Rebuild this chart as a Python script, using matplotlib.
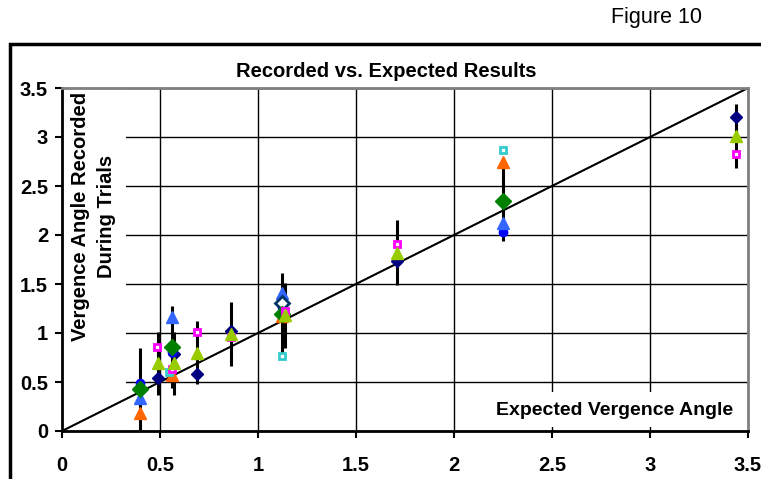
import matplotlib.pyplot as plt
from matplotlib.patches import Rectangle

plt.rcParams['font.family'] = ['Liberation Sans', 'DejaVu Sans']

# navy diamonds
navy_x = [0.49, 0.57, 0.69, 0.86, 1.71, 3.44]
navy_y = [0.54, 0.79, 0.58, 1.02, 1.73, 3.20]
# blue circles
blue_x = [0.40, 0.56, 1.12, 2.25]
blue_y = [0.49, 0.81, 1.27, 2.03]
# light blue triangles
lblue_x = [0.40, 0.56, 1.12, 2.25]
lblue_y = [0.34, 1.16, 1.41, 2.12]
# orange triangles
orange_x = [0.40, 0.56, 1.12, 2.25]
orange_y = [0.18, 0.57, 1.17, 2.74]
# green diamonds (with error bars)
green_x = [0.40, 0.56, 1.12, 2.25]
green_y = [0.43, 0.86, 1.19, 2.35]
green_err = [0.42, 0.42, 0.42, 0.41]
# cyan squares
cyan_x = [0.545, 1.12, 2.25]
cyan_y = [0.60, 0.77, 2.87]
# open navy diamond
open_x = [1.12]
open_y = [1.31]
# magenta squares
mag_x = [0.485, 0.56, 0.69, 0.86, 1.14, 1.71, 3.44]
mag_y = [0.86, 0.63, 1.01, 0.96, 1.22, 1.91, 2.83]
# yellow-green triangles (with error bars)
yg_x = [0.49, 0.57, 0.69, 0.86, 1.14, 1.71, 3.44]
yg_y = [0.69, 0.69, 0.80, 0.99, 1.18, 1.82, 3.01]
yg_err = [0.32, 0.32, 0.32, 0.33, 0.33, 0.33, 0.33]

ticks = [0, 0.5, 1, 1.5, 2, 2.5, 3, 3.5]
tick_labels = ['0', '0.5', '1', '1.5', '2', '2.5', '3', '3.5']

fig = plt.figure(figsize=(7.61, 4.79), dpi=100)
ax = fig.add_axes([62 / 761, 1 - 431 / 479, 686 / 761, 343 / 479])

# outer frame
fig.patches.append(Rectangle((10 / 761, -0.1), 1.2, 1 - 44 / 479 + 0.1,
                             transform=fig.transFigure, fill=False,
                             edgecolor='black', linewidth=2.5))

ax.set_xlim(0, 3.5)
ax.set_ylim(0, 3.5)
ax.set_axisbelow(True)
ax.grid(True, color='black', linewidth=1)

# white boxes behind the labels inside the plot
ax.add_patch(Rectangle((0, 0), 0.328, 3.5, facecolor='white', edgecolor='none', zorder=1))
ax.add_patch(Rectangle((2.18, 0.04), 1.30, 0.36, facecolor='white', edgecolor='none', zorder=1))

ax.plot([0, 3.5], [0, 3.5], color='black', linewidth=1.5, zorder=2)

ax.errorbar(green_x, green_y, yerr=green_err, fmt='none', ecolor='black', elinewidth=2.2, zorder=3)
ax.errorbar(yg_x, yg_y, yerr=yg_err, fmt='none', ecolor='black', elinewidth=2.2, zorder=3)

ax.plot(navy_x, navy_y, 'D', color='#000080', markersize=6, zorder=4)
ax.plot(blue_x, blue_y, 'o', color='#0000FF', markersize=6, zorder=4)
ax.plot(lblue_x, lblue_y, '^', color='#3366FF', markersize=8, zorder=4)
ax.plot(orange_x, orange_y, '^', color='#FF6600', markersize=8, zorder=4)
ax.plot(open_x, open_y, 'D', markerfacecolor='white', markeredgecolor='#003366',
        markeredgewidth=2, markersize=7, zorder=4)
ax.plot(green_x, green_y, 'D', color='#008000', markersize=8, zorder=4)
ax.plot(cyan_x, cyan_y, 's', markerfacecolor='white', markeredgecolor='#33CCCC',
        markeredgewidth=2, markersize=4, zorder=4)
ax.plot(mag_x, mag_y, 's', markerfacecolor='white', markeredgecolor='#FF00FF',
        markeredgewidth=2, markersize=4, zorder=4)
ax.plot(yg_x, yg_y, '^', color='#99CC00', markersize=9, zorder=4)

ax.set_xticks(ticks)
ax.set_xticklabels(tick_labels, fontsize=14.5, fontweight='bold')
ax.set_yticks(ticks)
ax.set_yticklabels(tick_labels, fontsize=14.5, fontweight='bold')
ax.tick_params(axis='x', direction='out', length=5, width=1.5, pad=13)
ax.tick_params(axis='y', direction='out', length=5, width=1.5, pad=5)

ax.spines['left'].set_color('black')
ax.spines['bottom'].set_color('black')
ax.spines['left'].set_linewidth(2)
ax.spines['bottom'].set_linewidth(2)
ax.spines['top'].set_color('#808080')
ax.spines['right'].set_color('#808080')
ax.spines['top'].set_linewidth(2)
ax.spines['right'].set_linewidth(2)

ax.text(0.161, 2.19, 'Vergence Angle Recorded\nDuring Trials', rotation=90,
        ha='center', va='center', fontsize=14.5, fontweight='bold',
        linespacing=1.5, zorder=5)
ax.text(2.82, 0.21, 'Expected Vergence Angle', ha='center', va='center',
        fontsize=14, fontweight='bold', zorder=5)

fig.text(386 / 761, 1 - 71.5 / 479, 'Recorded vs. Expected Results', ha='center',
         va='center', fontsize=14.5, fontweight='bold')
fig.text(702 / 761, 1 - 17 / 479, 'Figure 10', ha='right', va='center', fontsize=15.5)

plt.savefig('out.png', dpi=100)
